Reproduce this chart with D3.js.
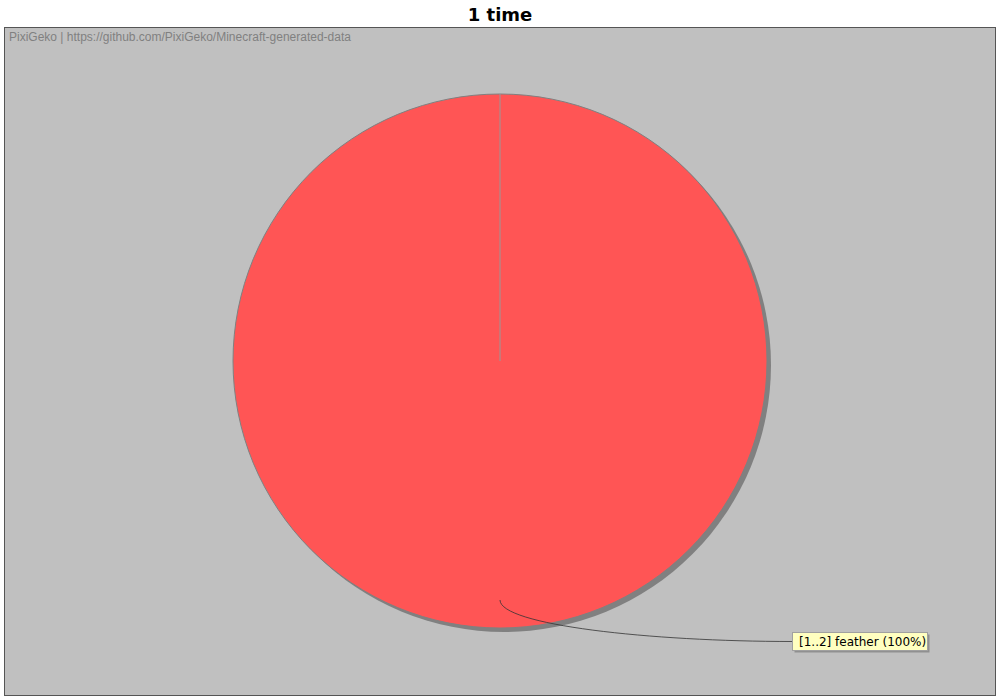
<!DOCTYPE html>
<html><head><meta charset="utf-8">
<script src="https://cdn.jsdelivr.net/npm/d3@7"></script>
<style>body{margin:0;background:#fff}svg{display:block}</style>
</head><body>
<script>
const title = "1 time";
const watermark = "PixiGeko | https://github.com/PixiGeko/Minecraft-generated-data";
const categories = ["[1..2] feather"];
const values = [100];
const colors = ["#FF5555"];

const W = 1000, H = 700;
const svg = d3.select("body").append("svg").attr("width", W).attr("height", H);
svg.append("rect").attr("width", W).attr("height", H).attr("fill", "#fff");

svg.append("text").attr("x", 500).attr("y", 21).attr("text-anchor", "middle")
  .attr("font-family", "DejaVu Sans, sans-serif").attr("font-weight", "bold").attr("font-size", 18)
  .text(title);

const plot = {x: 4.5, y: 27.5, w: 991, h: 668};
svg.append("rect").attr("x", plot.x).attr("y", plot.y).attr("width", plot.w).attr("height", plot.h)
  .attr("fill", "#C0C0C0").attr("stroke", "#555").attr("stroke-width", 1);

svg.append("text").attr("x", 9).attr("y", 41)
  .attr("font-family", "Liberation Sans, Arial, sans-serif").attr("font-size", 12).attr("fill", "#808080")
  .text(watermark);

const cx = 500, cy = 361, R = 267;
const total = d3.sum(values);
const pie = d3.pie().sort(null).startAngle(0).endAngle(2 * Math.PI)(values);
const arc = d3.arc().innerRadius(0).outerRadius(R);
const g = svg.append("g").attr("transform", `translate(${cx},${cy})`);

// shadow
g.selectAll("path.shadow").data(pie).join("path").attr("class", "shadow")
  .attr("transform", "translate(4,4)").attr("d", arc).attr("fill", "#808080");
g.selectAll("path.slice").data(pie).join("path").attr("class", "slice")
  .attr("d", arc).attr("fill", (d, i) => colors[i]).attr("stroke", "#808080").attr("stroke-width", 1);
// slice boundary lines
g.selectAll("line.edge").data(pie).join("line").attr("class", "edge")
  .attr("x1", 0).attr("y1", 0)
  .attr("x2", d => R * Math.sin(d.startAngle)).attr("y2", d => -R * Math.cos(d.startAngle))
  .attr("stroke", "#999").attr("stroke-width", 1);

// labels
const labelBoxes = [{x: 792.5, y: 632.5, w: 135, h: 18}];
pie.forEach((d, i) => {
  const mid = (d.startAngle + d.endAngle) / 2;
  const ax = cx + (R - 28) * Math.sin(mid), ay = cy - (R - 28) * Math.cos(mid);
  const b = labelBoxes[i];
  const ex = b.x, ey = b.y + b.h / 2;
  svg.append("path")
    .attr("d", `M${ax},${ay} C${ax},${ay + 25} ${ax + 150},${ey} ${ex},${ey}`)
    .attr("fill", "none").attr("stroke", "#333").attr("stroke-width", 0.8);
  svg.append("rect").attr("x", b.x + 2).attr("y", b.y + 2).attr("width", b.w).attr("height", b.h).attr("fill", "#909090");
  svg.append("rect").attr("x", b.x).attr("y", b.y).attr("width", b.w).attr("height", b.h)
    .attr("fill", "#FFFFC0").attr("stroke", "#A0A0A0");
  const pct = Math.round(values[i] / total * 100);
  svg.append("text").attr("x", b.x + 6.5).attr("y", b.y + 13.5)
    .attr("font-family", "DejaVu Sans, sans-serif").attr("font-size", 12).attr("fill", "#000")
    .text(`${categories[i]} (${pct}%)`);
});
</script>
</body></html>
